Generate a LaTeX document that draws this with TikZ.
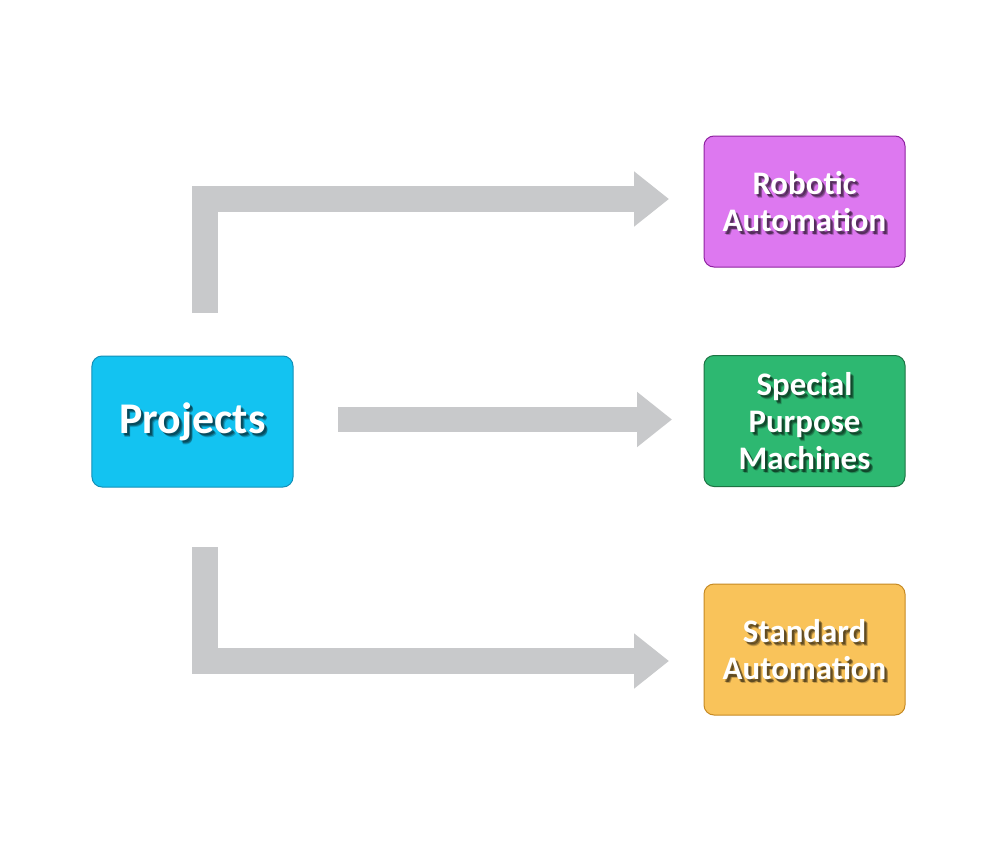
\documentclass[tikz,border=0pt]{standalone}
\usepackage{fontspec}
\setmainfont{Carlito}
\usetikzlibrary{arrows.meta}
\definecolor{arrowgrey}{HTML}{C8C9CB}
\definecolor{projfill}{HTML}{13C3F1}
\definecolor{projdraw}{HTML}{1290B8}
\definecolor{robfill}{HTML}{DD78F0}
\definecolor{robdraw}{HTML}{8E22A0}
\definecolor{spfill}{HTML}{2DB871}
\definecolor{spdraw}{HTML}{1C7443}
\definecolor{stfill}{HTML}{F9C35A}
\definecolor{stdraw}{HTML}{C68A24}
\tikzset{
  boxtext/.style={font=\bfseries\fontsize{33}{37.5}\selectfont, align=center, inner sep=0pt},
  bigtext/.style={font=\bfseries\fontsize{44}{50}\selectfont, align=center, inner sep=0pt},
  shadowed/.style 2 args={path picture={
    \foreach \dx/\dy/\op in {2/2.5/0.3, 3/3/0.3, 3.5/4/0.2}
      \node[#1, text=black, opacity=\op] at ([shift={(\dx,\dy)}]path picture bounding box.center) {#2};}},
  card/.style={rounded corners=10bp, minimum width=201bp, minimum height=131bp,
    line width=1bp, text=white, inner sep=0pt},
  blockarrow/.style={arrowgrey, line width=26bp, line join=miter,
    -{Triangle[length=35bp,width=53bp]}}
}
\begin{document}
\begin{tikzpicture}[x=1bp,y=-1bp]
\useasboundingbox (0,0) rectangle (1000,842);
\fill[white] (0,0) rectangle (1000,842);
% boxes
\node[card, fill=projfill, draw=projdraw, shadowed={bigtext}{Projects}] (proj) at (192.5,421.5) {};
\node[bigtext, text=white] (projt) at (proj.center) {Projects};
\node[card, fill=robfill, draw=robdraw, shadowed={boxtext}{Robotic\\Automation}] (rob) at (804.5,201.5) {};
\node[boxtext, text=white] (robt) at (rob.center) {Robotic\\Automation};
\node[card, fill=spfill, draw=spdraw, shadowed={boxtext}{Special\\Purpose\\Machines}] (sp) at (804.5,421) {};
\node[boxtext, text=white] (spt) at (sp.center) {Special\\Purpose\\Machines};
\node[card, fill=stfill, draw=stdraw, shadowed={boxtext}{Standard\\Automation}] (st) at (804.5,649.5) {};
\node[boxtext, text=white] (stt) at (st.center) {Standard\\Automation};
% arrows
\coordinate (a1s) at (204.5,313);
\coordinate (a1e) at (669,199);
\coordinate (a2s) at (338,419.5);
\coordinate (a2e) at (672,419.5);
\coordinate (a3s) at (204.5,547);
\coordinate (a3e) at (669,661);
\draw[blockarrow] (a1s) |- (a1e);
\draw[blockarrow, line width=25bp] (a2s) -- (a2e);
\draw[blockarrow] (a3s) |- (a3e);
\end{tikzpicture}
\end{document}
